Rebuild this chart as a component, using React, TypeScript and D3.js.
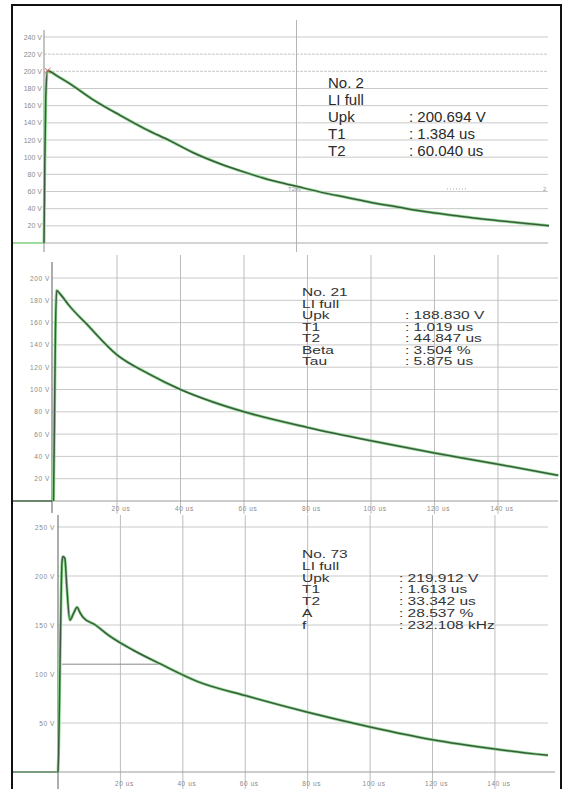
import React from 'react'
import * as d3 from 'd3'

// panel 1 : No. 2
const p1Time = [0, 0.3, 0.7, 1.4, 5, 10, 20, 30, 40, 50, 60, 70, 80, 90, 100, 110, 120, 130, 140, 150, 160, 170, 180, 190, 200]
const p1Volt = [0, 90, 170, 200.7, 195, 186, 166, 149, 133, 119, 104, 92, 82, 73, 66, 59, 53, 47, 42, 37, 33, 29, 26, 23, 20]
const p1YTicks = [20, 40, 60, 80, 100, 120, 140, 160, 180, 200, 220, 240]
const p1Info = [['No. 2', ''], ['LI full', ''], ['Upk', ': 200.694 V'], ['T1', ': 1.384 us'], ['T2', ': 60.040 us']]

// panel 2 : No. 21
const p2Time = [0, 0.3, 0.6, 1.0, 2, 5, 10, 20, 30, 40, 50, 60, 80, 100, 120, 140, 159]
const p2Volt = [0, 70, 150, 188.8, 186, 175, 160, 131, 114, 100, 89, 80, 66, 54, 43, 33, 23]
const p2YTicks = [20, 40, 60, 80, 100, 120, 140, 160, 180, 200]
const p2Info = [['No. 21', ''], ['LI full', ''], ['Upk', ': 188.830 V'], ['T1', ': 1.019 us'], ['T2', ': 44.847 us'], ['Beta', ': 3.504 %'], ['Tau', ': 5.875 us']]

// panel 3 : No. 73
const p3Time = [0, 0.2, 0.6, 1.0, 1.3, 1.6, 2.2, 2.8, 3.8, 5, 6.1, 7, 8, 12, 16, 24, 33, 45, 60, 80, 100, 120, 140, 157]
const p3Volt = [0, 20, 100, 180, 215, 219.9, 218, 190, 155, 162, 168, 163, 158, 150, 140, 124.5, 110, 92, 78, 61, 46, 33, 23.5, 17]
const p3YTicks = [50, 100, 150, 200, 250]
const p3Info = [['No. 73', ''], ['LI full', ''], ['Upk', ': 219.912 V'], ['T1', ': 1.613 us'], ['T2', ': 33.342 us'], ['A', ': 28.537 %'], ['f', ': 232.108 kHz']]

const xTicks = [20, 40, 60, 80, 100, 120, 140]

const font = '"Liberation Sans", Arial, sans-serif'
const gridCol = '#c9c9c9'
const labCol = '#8a8a8a'

function Trace({ x, y, t, v }) {
  const line = d3.line<number>().x((d, i) => x(t[i])).y((d) => y(d)).curve(d3.curveMonotoneX)
  const d = line(v) || ''
  return (
    <g fill="none" strokeLinejoin="round">
      <path d={d} stroke="#8fdc8f" strokeWidth={3} />
      <path d={d} stroke="#3b5a40" strokeWidth={1.5} />
    </g>
  )
}

export default function App() {
  // panel 1 scales
  const x1 = d3.scaleLinear().domain([0, 200]).range([44, 549])
  const y1 = d3.scaleLinear().domain([0, 240]).range([243, 37])
  // panel 2
  const x2 = d3.scaleLinear().domain([0, 159]).range([53.5, 558.3])
  const y2 = d3.scaleLinear().domain([0, 200]).range([501, 278])
  // panel 3
  const x3 = d3.scaleLinear().domain([0, 157]).range([58, 548])
  const y3 = d3.scaleLinear().domain([0, 250]).range([772, 527])

  return (
    <svg width={563} height={789} style={{ position: 'absolute', left: 0, top: 0, background: '#fff' }} fontFamily={font}>
      <rect x={0} y={0} width={563} height={789} fill="#fff" />

      {/* ---------- panel 1 ---------- */}
      {p1YTicks.map((v) => (
        <g key={'g1' + v}>
          <line x1={44} x2={548} y1={y1(v)} y2={y1(v)} stroke={gridCol} strokeWidth={1} strokeDasharray={v === 220 || v === 200 ? '3 1' : null} />
          <text x={42} y={y1(v) + 2.5} fontSize={7} fill={labCol} textAnchor="end">{v} V</text>
        </g>
      ))}
      <line x1={44} x2={548} y1={y1(0)} y2={y1(0)} stroke="#aaa" />
      <line x1={x1(100)} x2={x1(100)} y1={20} y2={252} stroke="#b5b5b5" />
      <line x1={44} x2={44} y1={30} y2={252} stroke="#888" />
      <line x1={12} x2={44} y1={y1(0)} y2={y1(0)} stroke="#7fcf7f" strokeWidth={1.5} />
      <line x1={447} x2={468} y1={189} y2={189} stroke="#aaa" strokeDasharray="1 2" />
      <text x={288} y={191} fontSize={6} fill="#999">T2hv</text>
      <text x={543} y={191} fontSize={6} fill="#999">2</text>
      <Trace x={x1} y={y1} t={p1Time} v={p1Volt} />
      <path d={`M${x1(1.4) - 3},${y1(200.7) - 3}l6,6M${x1(1.4) + 3},${y1(200.7) - 3}l-6,6`} stroke="#e06070" strokeWidth={1} />
      {p1Info.map((r, i) => (
        <g key={'i1' + i} fontSize={15} fill="#2a2a2a">
          <text x={328} y={88 + i * 17}>{r[0]}</text>
          <text x={409} y={88 + i * 17}>{r[1]}</text>
        </g>
      ))}

      {/* ---------- panel 2 ---------- */}
      {p2YTicks.map((v) => (
        <g key={'g2' + v}>
          <line x1={52} x2={558} y1={y2(v)} y2={y2(v)} stroke={gridCol} />
          <text x={50} y={y2(v) + 2.5} fontSize={6.5} fill={labCol} textAnchor="end" letterSpacing={0.6}>{v} V</text>
        </g>
      ))}
      {xTicks.map((t) => (
        <g key={'v2' + t}>
          <line x1={x2(t)} x2={x2(t)} y1={255} y2={514} stroke="#bdbdbd" />
          <text x={x2(t) + 4} y={511} fontSize={6.5} fill={labCol} textAnchor="middle" letterSpacing={0.6}>{t} us</text>
        </g>
      ))}
      <line x1={52} x2={558} y1={y2(0)} y2={y2(0)} stroke="#9a9a9a" />
      <line x1={52} x2={52} y1={262} y2={513} stroke="#777" strokeWidth={1.2} />
      <line x1={12} x2={52} y1={y2(0)} y2={y2(0)} stroke="#3b5a40" strokeWidth={1.5} />
      <Trace x={x2} y={y2} t={p2Time} v={p2Volt} />
      {p2Info.map((r, i) => (
        <g key={'i2' + i} fontSize={11.5} fill="#333">
          <text transform={`translate(302,${296 + i * 11.5}) scale(1.35,1)`}>{r[0]}</text>
          <text transform={`translate(405,${296 + i * 11.5}) scale(1.35,1)`}>{r[1]}</text>
        </g>
      ))}

      {/* ---------- panel 3 ---------- */}
      {p3YTicks.map((v) => (
        <g key={'g3' + v}>
          <line x1={58} x2={548} y1={y3(v)} y2={y3(v)} stroke={gridCol} />
          <text x={55} y={y3(v) + 2.5} fontSize={6.5} fill={labCol} textAnchor="end" letterSpacing={0.6}>{v} V</text>
        </g>
      ))}
      {xTicks.map((t) => (
        <g key={'v3' + t}>
          <line x1={x3(t)} x2={x3(t)} y1={515} y2={789} stroke="#bdbdbd" />
          <text x={x3(t) + 4} y={786} fontSize={6.5} fill={labCol} textAnchor="middle" letterSpacing={0.6}>{t} us</text>
        </g>
      ))}
      <line x1={58} x2={555} y1={y3(0)} y2={y3(0)} stroke="#9a9a9a" />
      <line x1={58} x2={58} y1={515} y2={789} stroke="#777" strokeWidth={1.2} />
      <line x1={x3(1.3)} x2={x3(33)} y1={y3(110)} y2={y3(110)} stroke="#888" />
      <line x1={12} x2={58} y1={y3(0)} y2={y3(0)} stroke="#4f7a55" strokeWidth={1.5} />
      <Trace x={x3} y={y3} t={p3Time} v={p3Volt} />
      {p3Info.map((r, i) => (
        <g key={'i3' + i} fontSize={11.5} fill="#333">
          <text transform={`translate(302,${558 + i * 11.8}) scale(1.35,1)`}>{r[0]}</text>
          <text transform={`translate(399,${558 + i * 11.8}) scale(1.35,1)`}>{r[1]}</text>
        </g>
      ))}

      {/* outer frame */}
      <path d="M12,792V5H561V792" fill="none" stroke="#111" strokeWidth={2} />
    </svg>
  )
}
